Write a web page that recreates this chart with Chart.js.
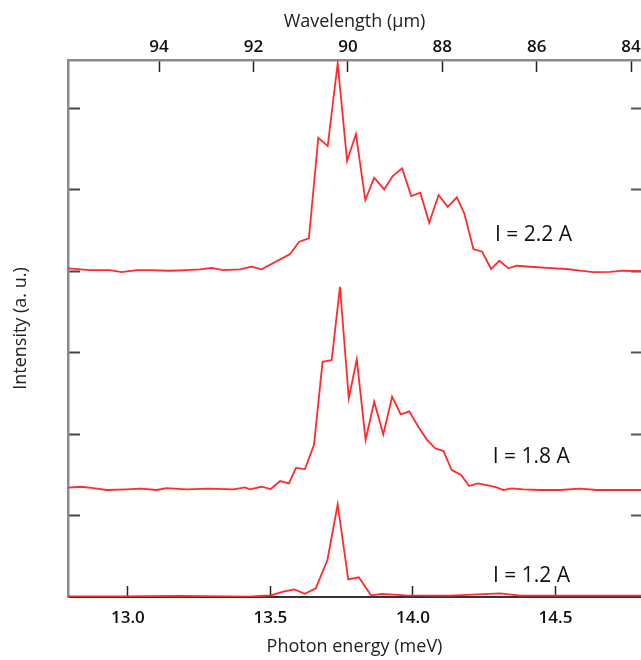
<!DOCTYPE html>
<html>
<head>
<meta charset="utf-8">
<script src="https://cdn.jsdelivr.net/npm/chart.js@4.4.0/dist/chart.umd.min.js"></script>
<style>
  html, body { margin: 0; background: #fff; }
</style>
</head>
<body>
<canvas id="spectra" width="641" height="660"></canvas>
<script>
// spectra, photon energy in meV, intensity already offset per current
const energy22 = [12.791, 12.867, 12.937, 12.978, 13.031, 13.078, 13.148, 13.206, 13.253, 13.294, 13.335, 13.393,
  13.434, 13.469, 13.569, 13.601, 13.635, 13.668, 13.701, 13.736, 13.769, 13.800, 13.833, 13.864, 13.899, 13.929,
  13.962, 13.994, 14.026, 14.057, 14.090, 14.122, 14.154, 14.180, 14.212, 14.243, 14.274, 14.303, 14.335, 14.364,
  14.411, 14.469, 14.539, 14.586, 14.633, 14.691, 14.738, 14.800];
const intensity22 = [4.033, 4.012, 4.012, 3.988, 4.012, 4.012, 4.004, 4.012, 4.021, 4.040, 4.012, 4.021,
  4.053, 4.021, 4.209, 4.360, 4.401, 5.636, 5.534, 6.548, 5.353, 5.681, 4.871, 5.145, 5.002, 5.166,
  5.260, 4.920, 4.961, 4.593, 4.933, 4.789, 4.904, 4.708, 4.270, 4.237, 4.025, 4.126, 4.033, 4.065,
  4.053, 4.040, 4.025, 4.004, 3.988, 3.991, 4.004, 4.000];

const energy18 = [12.791, 12.838, 12.879, 12.926, 12.996, 13.043, 13.101, 13.136, 13.206, 13.288, 13.370, 13.411,
  13.428, 13.469, 13.501, 13.534, 13.565, 13.590, 13.621, 13.653, 13.683, 13.715, 13.744, 13.775, 13.803, 13.834,
  13.864, 13.896, 13.927, 13.957, 13.987, 14.019, 14.048, 14.078, 14.107, 14.136, 14.169, 14.197, 14.227, 14.259,
  14.294, 14.317, 14.346, 14.387, 14.446, 14.516, 14.586, 14.645, 14.703, 14.800];
const intensity18 = [1.341, 1.353, 1.337, 1.313, 1.321, 1.329, 1.313, 1.337, 1.321, 1.329, 1.321, 1.346,
  1.321, 1.353, 1.325, 1.423, 1.395, 1.587, 1.567, 1.869, 2.887, 2.908, 3.807, 2.438, 2.917, 1.926,
  2.396, 1.996, 2.458, 2.242, 2.279, 2.090, 1.935, 1.825, 1.791, 1.558, 1.497, 1.362, 1.395, 1.374,
  1.346, 1.313, 1.334, 1.321, 1.313, 1.313, 1.329, 1.313, 1.313, 1.313];

const energy12 = [12.791, 12.972, 13.183, 13.428, 13.464, 13.501, 13.545, 13.584, 13.621, 13.659, 13.700, 13.736,
  13.773, 13.810, 13.853, 13.890, 13.931, 13.972, 14.130, 14.305, 14.376, 14.586, 14.800];
const intensity12 = [0.006, 0.006, 0.012, 0.004, 0.012, 0.021, 0.065, 0.094, 0.040, 0.107, 0.454, 1.137,
  0.217, 0.242, 0.021, 0.037, 0.028, 0.021, 0.018, 0.045, 0.018, 0.018, 0.018];

const energyTicks = [13.0, 13.5, 14.0, 14.5];
const wavelengthTicks = [94, 92, 90, 88, 86, 84];
const intensityTicks = [1, 2, 3, 4, 5, 6];
const currentNames = ["I = 2.2 A", "I = 1.8 A", "I = 1.2 A"];

// where the current labels sit, in data units
const labelSpots = [
  {x: 14.288, y: 4.442},
  {x: 14.280, y: 1.712},
  {x: 14.281, y: 0.258},
];

const RED = "#ff2b2b";
const FONT = "'Open Sans', 'DejaVu Sans', sans-serif";

function toPoints(xs, ys) {
  return xs.map((x, i) => ({x: x, y: ys[i]}));
}

function fixedTicks(values) {
  return (scale) => {
    scale.ticks = values.map((v) => ({value: v}));
  };
}

// fixed box size and no extra padding, so the plot frame lands where the original has it
function fixBox(w, h) {
  return (s) => {
    if (w !== null) s.width = w;
    if (h !== null) s.height = h;
    s.paddingLeft = 0;
    s.paddingRight = 0;
    s.paddingTop = 0;
    s.paddingBottom = 0;
  };
}

const currentLabels = {
  id: "currentLabels",
  afterDatasetsDraw(chart) {
    const {ctx, scales} = chart;
    ctx.save();
    ctx.font = "21px " + FONT;
    ctx.fillStyle = "#111";
    ctx.textAlign = "left";
    ctx.textBaseline = "middle";
    labelSpots.forEach((spot, i) => {
      ctx.fillText(currentNames[i], scales.x.getPixelForValue(spot.x), scales.y.getPixelForValue(spot.y));
    });
    ctx.restore();
  },
};

const tickFont = {family: FONT, size: 17, weight: 600};
const titleFont = {family: FONT, size: 18};

const config = {
  type: "line",
  data: {
    datasets: [
      {label: currentNames[0], data: toPoints(energy22, intensity22)},
      {label: currentNames[1], data: toPoints(energy18, intensity18)},
      {label: currentNames[2], data: toPoints(energy12, intensity12)},
    ].map((ds) => Object.assign(ds, {
      borderColor: RED,
      borderWidth: 1.8,
      pointRadius: 0,
      tension: 0,
      fill: false,
    })),
  },
  options: {
    responsive: false,
    animation: false,
    layout: {padding: 0},
    plugins: {
      legend: {display: false},
      tooltip: {enabled: false},
    },
    scales: {
      x: {
        type: "linear",
        position: "bottom",
        min: 12.79,
        max: 14.80,
        afterBuildTicks: fixedTicks(energyTicks),
        afterFit: fixBox(null, 63),
        border: {color: "#333", width: 2},
        grid: {drawOnChartArea: false, tickLength: -11, color: "#222", tickWidth: 1.5},
        ticks: {
          font: tickFont,
          color: "#111",
          padding: 22,
          maxRotation: 0,
          callback: (v) => Number(v).toFixed(1),
        },
        title: {display: true, text: "Photon energy (meV)", font: titleFont, color: "#222", padding: {top: 0, bottom: 2}},
      },
      x2: {
        type: "linear",
        position: "top",
        reverse: true,
        min: 83.79,
        max: 95.93,
        afterBuildTicks: fixedTicks(wavelengthTicks),
        afterFit: fixBox(null, 60),
        border: {color: "#8a8a8a", width: 2.5},
        grid: {drawOnChartArea: false, tickLength: -12, color: "#222", tickWidth: 1.5},
        ticks: {font: tickFont, color: "#111", padding: 15, maxRotation: 0},
        title: {display: true, text: "Wavelength (\u00b5m)", font: titleFont, color: "#222", padding: {top: 11, bottom: 0}},
      },
      y: {
        type: "linear",
        position: "left",
        min: 0,
        max: 6.59,
        afterBuildTicks: fixedTicks(intensityTicks),
        afterFit: fixBox(68, null),
        border: {color: "#8a8a8a", width: 2.5},
        grid: {drawOnChartArea: false, tickLength: -12, color: "#444", tickWidth: 2},
        ticks: {display: false},
        title: {display: true, text: "Intensity (a. u.)", font: titleFont, color: "#222", padding: {top: 10, bottom: 0}},
      },
      y2: {
        type: "linear",
        position: "right",
        min: 0,
        max: 6.59,
        afterBuildTicks: fixedTicks(intensityTicks),
        afterFit: fixBox(0, null),
        border: {display: false},
        grid: {drawOnChartArea: false, tickLength: -10, color: "#555", tickWidth: 2},
        ticks: {display: false},
      },
    },
  },
  plugins: [currentLabels],
};

new Chart(document.getElementById("spectra"), config);
</script>
</body>
</html>
